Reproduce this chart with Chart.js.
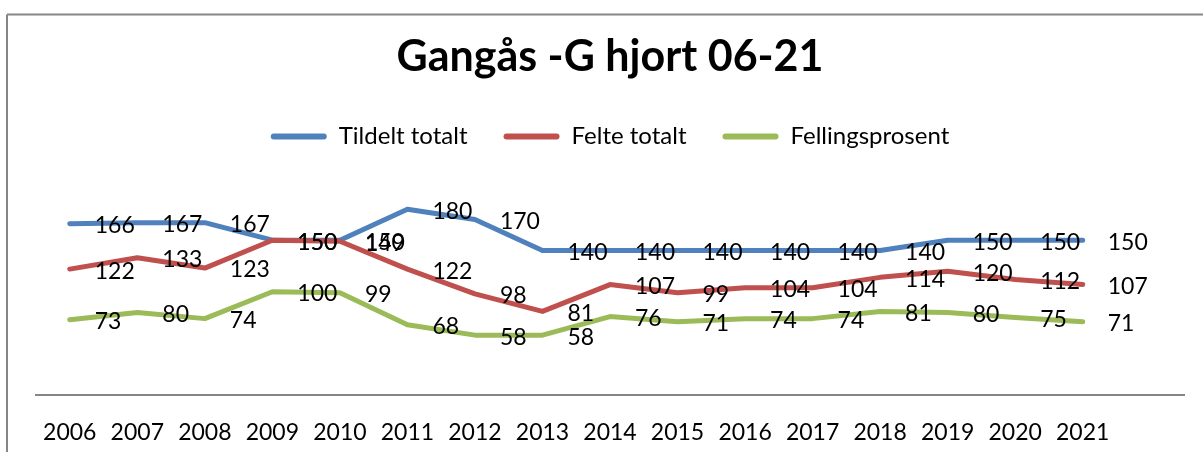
<!DOCTYPE html>
<html>
<head>
<meta charset="utf-8">
<script src="https://cdn.jsdelivr.net/npm/chart.js@4/dist/chart.umd.min.js"></script>
<style>
  html, body { margin: 0; padding: 0; background: #fff; }
  #wrap { width: 1203px; height: 452px; }
</style>
</head>
<body>
<div id="wrap"><canvas id="c" width="1203" height="452"></canvas></div>
<script>
const years = ['2006','2007','2008','2009','2010','2011','2012','2013','2014','2015','2016','2017','2018','2019','2020','2021',''];
const tildeltTotalt = [166,167,167,150,150,180,170,140,140,140,140,140,140,150,150,150];
const felteTotalt = [122,133,123,150,149,122,98,81,107,99,104,104,114,120,112,107];
const fellingsprosent = [73,80,74,100,99,68,58,58,76,71,74,74,81,80,75,71];
const seriesNames = ['Tildelt totalt','Felte totalt','Fellingsprosent'];
const seriesColors = ['#4F81BD','#C0504D','#9BBB59'];
const titleText = 'Gangås -G hjort 06-21';

const FONT = 'Lato, "Open Sans", sans-serif';

const framePlugin = {
  id: 'frame',
  beforeDraw(chart) {
    const ctx = chart.ctx;
    ctx.save();
    ctx.fillStyle = '#fff';
    ctx.fillRect(0, 0, chart.width, chart.height);
    ctx.strokeStyle = '#868686';
    ctx.lineWidth = 2;
    ctx.beginPath();
    ctx.moveTo(7, 14.5);
    ctx.lineTo(chart.width, 14.5);
    ctx.moveTo(7, 14.5);
    ctx.lineTo(7, chart.height);
    ctx.stroke();
    ctx.restore();
  }
};

const legendSpace = {
  id: 'legendSpace',
  beforeInit(chart) {
    const orig = chart.legend.fit;
    chart.legend.fit = function() {
      orig.call(this);
      this.height += 30;
    };
  }
};

const labelPlugin = {
  id: 'valueLabels',
  afterDatasetsDraw(chart) {
    const ctx = chart.ctx;
    ctx.save();
    ctx.font = '23px ' + FONT;
    ctx.fillStyle = '#000';
    ctx.textAlign = 'left';
    ctx.textBaseline = 'middle';
    chart.data.datasets.forEach((ds, i) => {
      const meta = chart.getDatasetMeta(i);
      meta.data.forEach((pt, j) => {
        const v = ds.data[j];
        if (v === null || v === undefined) return;
        ctx.fillText(String(v), pt.x + 25, pt.y + 2);
      });
    });
    ctx.restore();
  }
};

function build() {
  new Chart(document.getElementById('c'), {
    type: 'line',
    data: {
      labels: years,
      datasets: [
        { label: seriesNames[0], data: tildeltTotalt, borderColor: seriesColors[0], backgroundColor: seriesColors[0], order: 3 },
        { label: seriesNames[1], data: felteTotalt, borderColor: seriesColors[1], backgroundColor: seriesColors[1], order: 2 },
        { label: seriesNames[2], data: fellingsprosent, borderColor: seriesColors[2], backgroundColor: seriesColors[2], order: 1 }
      ]
    },
    options: {
      responsive: false,
      animation: false,
      devicePixelRatio: 1,
      layout: { padding: { left: 36, right: 19, top: 0, bottom: 7 } },
      elements: {
        line: { borderWidth: 5, tension: 0, borderCapStyle: 'round', borderJoinStyle: 'round', fill: false },
        point: { radius: 0, hoverRadius: 0 }
      },
      scales: {
        x: {
          type: 'category',
          offset: true,
          grid: { display: false, drawTicks: false },
          border: { display: true, color: '#868686', width: 2 },
          ticks: { color: '#000', font: { family: FONT, size: 23 }, padding: 24, maxRotation: 0, autoSkip: false },
          afterFit(scale) { scale.height = 50; }
        },
        y: {
          display: false,
          min: 0,
          max: 200
        }
      },
      plugins: {
        title: {
          display: true,
          text: titleText,
          color: '#000',
          font: { family: FONT, size: 43, weight: 'bold', lineHeight: 1.2 },
          padding: { top: 31, bottom: 6 }
        },
        legend: {
          display: true,
          position: 'top',
          labels: {
            color: '#000',
            font: { family: FONT, size: 24 },
            boxWidth: 56,
            boxHeight: 6,
            padding: 36,
            generateLabels(chart) {
              return chart.data.datasets.map((ds, i) => ({
                text: ds.label,
                fillStyle: ds.borderColor,
                strokeStyle: ds.borderColor,
                lineWidth: 0,
                borderRadius: 3,
                hidden: false,
                datasetIndex: i
              }));
            }
          }
        },
        tooltip: { enabled: false }
      }
    },
    plugins: [framePlugin, legendSpace, labelPlugin]
  });
}

if (document.fonts && document.fonts.load) {
  Promise.all([
    document.fonts.load('23px Lato'),
    document.fonts.load('bold 43px Lato')
  ]).then(build, build);
} else {
  build();
}
</script>
</body>
</html>
